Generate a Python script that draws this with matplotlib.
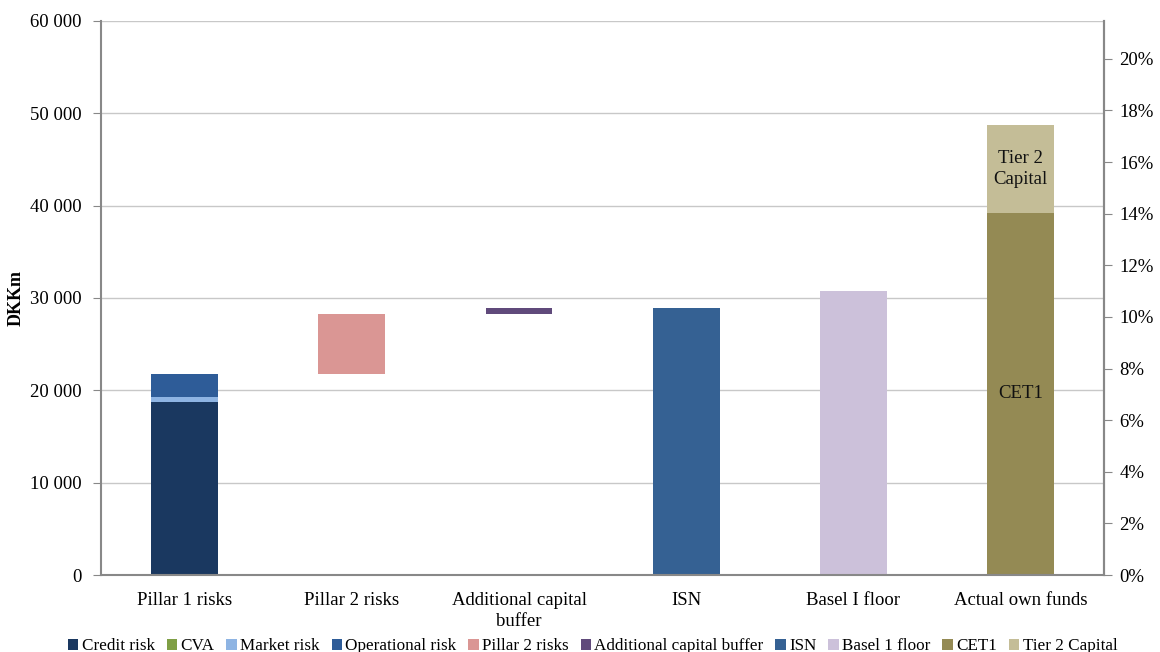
import matplotlib
matplotlib.use('Agg')
import matplotlib.pyplot as plt
import numpy as np

plt.rcParams['font.family'] = ['Liberation Serif', 'DejaVu Serif']

categories = ['Pillar 1 risks', 'Pillar 2 risks', 'Additional capital\nbuffer',
              'ISN', 'Basel I floor', 'Actual own funds']

# DKKm
credit_risk = 18770
cva = 0
market_risk = 500
operational_risk = 2500
pillar2_risks = 6500
additional_buffer = 650
isn = 28920
basel_floor = 30760
cet1 = 39210
tier2 = 9530

pct_ticks = list(range(0, 21, 2))

colors = {
    'Credit risk': '#1a3860',
    'CVA': '#7f9f45',
    'Market risk': '#8eb4e3',
    'Operational risk': '#2e5c98',
    'Pillar 2 risks': '#da9694',
    'Additional capital buffer': '#604a7b',
    'ISN': '#356193',
    'Basel 1 floor': '#ccc1da',
    'CET1': '#948a54',
    'Tier 2 Capital': '#c4bd97',
}

fig, ax = plt.subplots(figsize=(11.6, 6.52), dpi=100)
fig.subplots_adjust(left=0.087, right=0.952, top=0.968, bottom=0.118)

x = np.arange(len(categories))
w = 0.4

pillar1_total = credit_risk + cva + market_risk + operational_risk

bars = []
bars.append(ax.bar(x[0], credit_risk, w, color=colors['Credit risk'], label='Credit risk'))
bars.append(ax.bar(x[0], cva, w, bottom=credit_risk, color=colors['CVA'], label='CVA'))
bars.append(ax.bar(x[0], market_risk, w, bottom=credit_risk + cva, color=colors['Market risk'], label='Market risk'))
bars.append(ax.bar(x[0], operational_risk, w, bottom=credit_risk + cva + market_risk,
                   color=colors['Operational risk'], label='Operational risk'))
bars.append(ax.bar(x[1], pillar2_risks, w, bottom=pillar1_total, color=colors['Pillar 2 risks'], label='Pillar 2 risks'))
bars.append(ax.bar(x[2], additional_buffer, w, bottom=pillar1_total + pillar2_risks,
                   color=colors['Additional capital buffer'], label='Additional capital buffer'))
bars.append(ax.bar(x[3], isn, w, color=colors['ISN'], label='ISN'))
bars.append(ax.bar(x[4], basel_floor, w, color=colors['Basel 1 floor'], label='Basel 1 floor'))
bars.append(ax.bar(x[5], cet1, w, color=colors['CET1'], label='CET1'))
bars.append(ax.bar(x[5], tier2, w, bottom=cet1, color=colors['Tier 2 Capital'], label='Tier 2 Capital'))

ax.text(x[5], cet1 / 2, 'CET1', ha='center', va='center', fontsize=13.5, color='#111111')
ax.text(x[5], cet1 + tier2 / 2, 'Tier 2\nCapital', ha='center', va='center', fontsize=13.5,
        color='#111111', linespacing=1.25)

ax.set_xlim(-0.5, 5.5)
ax.set_ylim(0, 60000)
ax.set_yticks(range(0, 60001, 10000))
ax.set_yticklabels([f'{v:,}'.replace(',', ' ') for v in range(0, 60001, 10000)], fontsize=13.5)
ax.set_xticks(x)
ax.set_xticklabels(categories, fontsize=13.5, linespacing=1.3)
ax.tick_params(axis='x', length=0, pad=12)
ax.tick_params(axis='y', length=6, color='#888888', pad=8)
ax.grid(axis='y', color='#c8c8c8', linewidth=1)
ax.set_axisbelow(True)
ax.set_ylabel('DKKm', fontsize=13, fontweight='bold', labelpad=4)
ax.spines['top'].set_visible(False)
for s in ['left', 'right', 'bottom']:
    ax.spines[s].set_color('#888888')
    ax.spines[s].set_linewidth(1.5)

ax2 = ax.twinx()
ax2.set_ylim(0, 21.47)
ax2.set_yticks(pct_ticks)
ax2.set_yticklabels([f'{p}%' for p in pct_ticks], fontsize=13.5)
ax2.tick_params(axis='y', length=6, color='#888888', pad=5)
ax2.spines['top'].set_visible(False)
ax2.spines['right'].set_color('#888888')
ax2.spines['right'].set_linewidth(1.5)
ax2.spines['left'].set_visible(False)
ax2.spines['bottom'].set_visible(False)

fig.legend(handles=bars, loc='lower center', bbox_to_anchor=(0.511, -0.027), ncol=10,
           frameon=False, fontsize=12.3, handlelength=0.6, handleheight=0.6,
           handletextpad=0.2, columnspacing=0.7)

fig.savefig('out.png', dpi=100)
